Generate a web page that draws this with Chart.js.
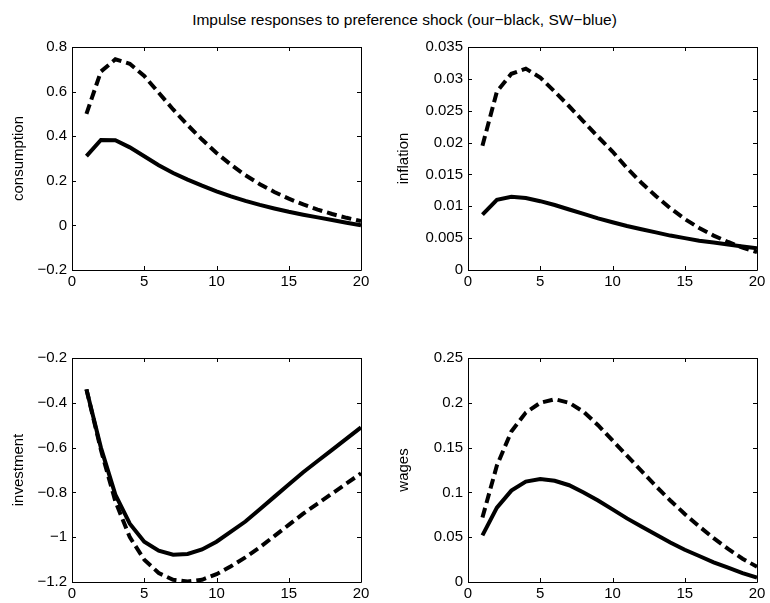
<!DOCTYPE html>
<html>
<head>
<meta charset="utf-8">
<script src="https://cdn.jsdelivr.net/npm/chart.js@4.4.1/dist/chart.umd.min.js"></script>
<style>
  body { margin: 0; background: #fff; width: 770px; height: 603px; position: relative; overflow: hidden; font-family: "Liberation Sans", Arial, sans-serif; }
  .panel { position: absolute; width: 385px; }
  #title { position: absolute; top: 11px; left: 0; width: 809px; text-align: center; font-size: 15.5px; color: #000; white-space: nowrap; }
</style>
</head>
<body>
<div id="title">Impulse responses to preference shock (our−black, SW−blue)</div>
<div class="panel" style="left:0;top:33px;height:258px"><canvas id="c-consumption"></canvas></div>
<div class="panel" style="left:385px;top:33px;height:258px"><canvas id="c-inflation"></canvas></div>
<div class="panel" style="left:0;top:344px;height:259px"><canvas id="c-investment"></canvas></div>
<div class="panel" style="left:385px;top:344px;height:259px"><canvas id="c-wages"></canvas></div>
<script>
// horizon (quarters)
const periods = [1, 2, 3, 4, 5, 6, 7, 8, 9, 10, 11, 12, 13, 14, 15, 16, 17, 18, 19, 20];
const xTicks = [0, 5, 10, 15, 20];

// solid = our model, dashed = SW
const consumptionSolid = [0.311, 0.383, 0.382, 0.35, 0.31, 0.27, 0.235, 0.205, 0.178, 0.153, 0.13, 0.11, 0.092, 0.076, 0.061, 0.048, 0.036, 0.024, 0.012, 0.001];
const consumptionDashed = [0.50, 0.69, 0.745, 0.725, 0.67, 0.595, 0.52, 0.45, 0.385, 0.325, 0.272, 0.225, 0.185, 0.15, 0.12, 0.094, 0.071, 0.051, 0.034, 0.019];
const consumptionTicks = [-0.2, 0, 0.2, 0.4, 0.6, 0.8];

const inflationSolid = [0.0087, 0.0110, 0.0115, 0.0113, 0.0108, 0.0102, 0.0095, 0.0088, 0.0081, 0.0075, 0.0069, 0.0064, 0.0059, 0.0054, 0.0050, 0.0046, 0.0043, 0.0040, 0.0037, 0.0034];
const inflationDashed = [0.0195, 0.028, 0.0308, 0.0316, 0.0302, 0.028, 0.0257, 0.0233, 0.0209, 0.0186, 0.016, 0.0137, 0.0116, 0.0097, 0.008, 0.0066, 0.0054, 0.0044, 0.0035, 0.0028];
const inflationTicks = [0, 0.005, 0.01, 0.015, 0.02, 0.025, 0.03, 0.035];

const investmentSolid = [-0.34, -0.6, -0.81, -0.94, -1.02, -1.06, -1.078, -1.075, -1.055, -1.02, -0.975, -0.93, -0.875, -0.82, -0.765, -0.71, -0.66, -0.61, -0.56, -0.51];
const investmentDashed = [-0.34, -0.61, -0.84, -1.0, -1.1, -1.16, -1.19, -1.198, -1.19, -1.165, -1.13, -1.09, -1.045, -0.995, -0.945, -0.895, -0.85, -0.805, -0.76, -0.715];
const investmentTicks = [-1.2, -1, -0.8, -0.6, -0.4, -0.2];

const wagesSolid = [0.052, 0.083, 0.102, 0.112, 0.115, 0.113, 0.108, 0.1, 0.091, 0.081, 0.071, 0.062, 0.053, 0.044, 0.036, 0.029, 0.022, 0.016, 0.01, 0.005];
const wagesDashed = [0.072, 0.13, 0.168, 0.189, 0.2, 0.204, 0.2, 0.19, 0.175, 0.158, 0.141, 0.124, 0.107, 0.091, 0.076, 0.062, 0.049, 0.037, 0.026, 0.017];
const wagesTicks = [0, 0.05, 0.1, 0.15, 0.2, 0.25];

const FONT = '"Liberation Sans", Arial, sans-serif';
const FS = 15;
Chart.defaults.font.family = FONT;
Chart.defaults.color = "#000";

// MATLAB style box with inward ticks on all four sides
const boxPlugin = {
  id: "box",
  afterDatasetsDraw(chart) {
    const { ctx, chartArea: a, scales: { x, y } } = chart;
    ctx.save();
    ctx.strokeStyle = "#000";
    ctx.lineWidth = 1;
    ctx.beginPath();
    ctx.rect(Math.round(a.left) + 0.5, Math.round(a.top) + 0.5, Math.round(a.right - a.left), Math.round(a.bottom - a.top));
    x.ticks.forEach((t) => {
      const px = Math.round(x.getPixelForValue(t.value)) + 0.5;
      ctx.moveTo(px, a.bottom); ctx.lineTo(px, a.bottom - 4);
      ctx.moveTo(px, a.top); ctx.lineTo(px, a.top + 4);
    });
    y.ticks.forEach((t) => {
      const py = Math.round(y.getPixelForValue(t.value)) + 0.5;
      ctx.moveTo(a.left, py); ctx.lineTo(a.left + 4, py);
      ctx.moveTo(a.right, py); ctx.lineTo(a.right - 4, py);
    });
    ctx.stroke();
    ctx.restore();
  }
};

const fmt = (v) => String(parseFloat(Number(v).toFixed(4))).replace("-", "\u2212");
const pts = (vals) => periods.map((p, i) => ({ x: p, y: vals[i] }));

function panel(id, label, solid, dashed, yTicks, yWidth, padRight) {
  new Chart(document.getElementById(id), {
    type: "line",
    data: {
      datasets: [
        { data: pts(dashed), borderColor: "#000", borderWidth: 4, borderDash: [10, 5], pointRadius: 0, tension: 0 },
        { data: pts(solid), borderColor: "#000", borderWidth: 4, pointRadius: 0, tension: 0 }
      ]
    },
    options: {
      responsive: true,
      maintainAspectRatio: false,
      animation: false,
      events: [],
      layout: { padding: { top: 10, right: padRight, bottom: 0, left: 0 } },
      plugins: { legend: { display: false }, tooltip: { enabled: false } },
      scales: {
        x: {
          type: "linear", min: 0, max: 20,
          grid: { display: false, drawTicks: false }, border: { display: false },
          ticks: { font: { size: FS }, padding: 3, maxRotation: 0, autoSkip: false, callback: fmt },
          afterBuildTicks: (s) => { s.ticks = xTicks.map((v) => ({ value: v })); },
          afterFit: (s) => { s.height = 21; }
        },
        y: {
          min: yTicks[0], max: yTicks[yTicks.length - 1],
          grid: { display: false, drawTicks: false }, border: { display: false },
          ticks: { font: { size: FS }, padding: 5, autoSkip: false, callback: fmt },
          afterBuildTicks: (s) => { s.ticks = yTicks.map((v) => ({ value: v })); },
          afterFit: (s) => { s.width = yWidth; },
          title: { display: true, text: label, font: { size: FS }, padding: { top: 10, bottom: 0 } }
        }
      }
    },
    plugins: [boxPlugin]
  });
}

panel("c-consumption", "consumption", consumptionSolid, consumptionDashed, consumptionTicks, 72, 24);
panel("c-inflation", "inflation", inflationSolid, inflationDashed, inflationTicks, 83, 13);
panel("c-investment", "investment", investmentSolid, investmentDashed, investmentTicks, 72, 24);
panel("c-wages", "wages", wagesSolid, wagesDashed, wagesTicks, 83, 13);
</script>
</body>
</html>
